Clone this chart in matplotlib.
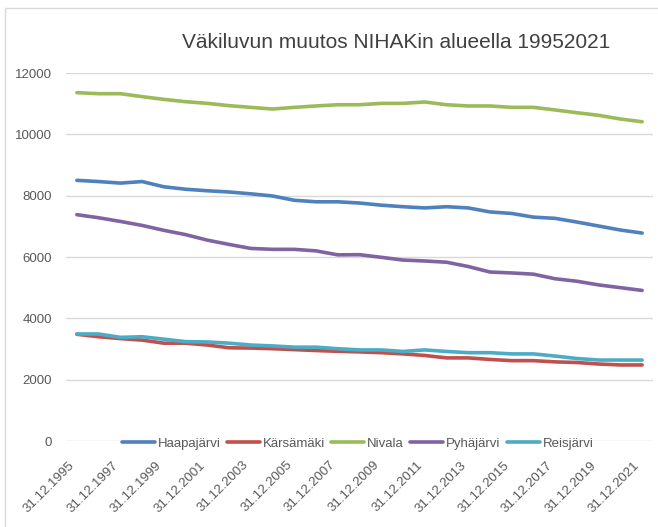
import matplotlib
matplotlib.use('Agg')
import matplotlib.pyplot as plt
from matplotlib.patches import Rectangle

plt.rcParams['font.family'] = ['Liberation Sans', 'DejaVu Sans']

# väkiluku vuoden lopussa
years = list(range(1995, 2022))
dates = ['31.12.%d' % y for y in years]

haapajarvi = [8500, 8460, 8410, 8460, 8290, 8210, 8160, 8120, 8060, 7990, 7850, 7800, 7800, 7760,
              7690, 7640, 7600, 7640, 7600, 7470, 7420, 7300, 7260, 7140, 7010, 6880, 6780]
karsamaki = [3480, 3400, 3340, 3290, 3190, 3190, 3130, 3040, 3030, 3010, 2980, 2950, 2925, 2905,
             2880, 2840, 2790, 2710, 2710, 2660, 2620, 2620, 2580, 2560, 2510, 2480, 2480]
nivala = [11360, 11325, 11325, 11230, 11140, 11065, 11010, 10935, 10880, 10825, 10880, 10925, 10965, 10965,
          11010, 11010, 11055, 10965, 10925, 10925, 10880, 10880, 10795, 10705, 10620, 10500, 10410]
pyhajarvi = [7380, 7280, 7160, 7030, 6870, 6730, 6550, 6410, 6280, 6250, 6250, 6200, 6070, 6075,
             5990, 5900, 5870, 5830, 5690, 5510, 5480, 5440, 5290, 5210, 5090, 5000, 4910]
reisjarvi = [3490, 3490, 3380, 3400, 3320, 3240, 3230, 3190, 3130, 3100, 3060, 3060, 3010, 2970,
             2970, 2920, 2970, 2920, 2880, 2880, 2840, 2840, 2770, 2690, 2640, 2640, 2640]

names = ['Haapajärvi', 'Kärsämäki', 'Nivala', 'Pyhäjärvi', 'Reisjärvi']
series = [haapajarvi, karsamaki, nivala, pyhajarvi, reisjarvi]
colors = ['#4F81BD', '#C0504D', '#9BBB59', '#8064A2', '#4BACC6']

W, H = 658, 527
fig = plt.figure(figsize=(W / 100, H / 100), dpi=100)
ax = fig.add_axes([66 / W, 1 - 441 / H, 587 / W, 368 / H])

x = list(range(len(dates)))
for name, vals, col in zip(names, series, colors):
    ax.plot(x, vals, color=col, lw=2.6, label=name, solid_capstyle='round')

ax.set_xlim(-0.5, len(dates) - 0.5)
ax.set_ylim(0, 12000)
ax.set_yticks(range(0, 12001, 2000))
ax.yaxis.grid(True, color='#d9d9d9', lw=1)
ax.set_axisbelow(True)
for s in ax.spines.values():
    s.set_visible(False)

ax.set_xticks(x[::2])
ax.set_xticklabels(dates[::2], rotation=45, ha='right')
ax.tick_params(axis='both', length=0, colors='#595959', labelsize=9.5)
ax.tick_params(axis='y', pad=10)
ax.tick_params(axis='x', pad=13)

ax.legend(loc='center', bbox_to_anchor=(0.497, -0.008), ncol=5, frameon=False,
          handlelength=2.5, handletextpad=0.2, columnspacing=0.5,
          fontsize=9.5, labelcolor='#595959', borderpad=0)

fig.text(396 / W, 1 - 42 / H, 'Väkiluvun muutos NIHAKin alueella 19952021',
         ha='center', va='center', fontsize=15, color='#404040')

fig.patches.append(Rectangle((5 / W, -0.05), 1.0, 1 - 8 / H + 0.05, transform=fig.transFigure,
                             fill=False, edgecolor='#d9d9d9', lw=1))

fig.savefig('out.png', dpi=100)
